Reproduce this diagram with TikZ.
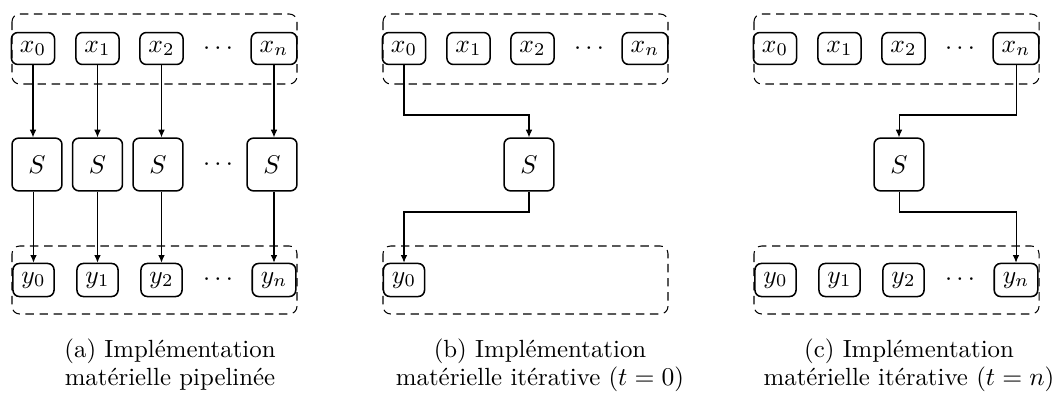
\documentclass[tikz,border=0pt]{standalone}
\usetikzlibrary{arrows.meta}
\begin{document}
\begin{tikzpicture}[x=0.390625pt,y=-0.390625pt,
  cell/.style={draw,semithick,rounded corners=2.5pt,minimum height=12.2pt,inner sep=3.33pt},
  sbox/.style={draw,semithick,rounded corners=2.5pt,minimum width=19.5pt,minimum height=20.6pt},
  group/.style={draw,dash pattern=on 3.3pt off 2.2pt,rounded corners=3pt},
  link/.style={-{Latex[length=3pt,width=2.6pt]}},
  captext/.style={align=center,font=\fontsize{9.7}{10.9}\selectfont,inner sep=0pt}]
\useasboundingbox (0,0) rectangle (1054,394);

% ---------- panel (a) ----------
\draw[group] (12,14) rectangle (297,84);
\draw[group] (12,246) rectangle (297,314);
\node[cell] (ax0) at (33,48.5) {$x_0$};
\node[cell] (ax1) at (97.5,48.5) {$x_1$};
\node[cell] (ax2) at (161.5,48.5) {$x_2$};
\node (axd) at (218,48.5) {$\cdots$};
\node[cell] (axn) at (274,48.5) {$x_n$};
\node[sbox] (aS0) at (37,164.5) {$S$};
\node[sbox] (aS1) at (97.5,164.5) {$S$};
\node[sbox] (aS2) at (158,164.5) {$S$};
\node (aSd) at (218,164.5) {$\cdots$};
\node[sbox] (aSn) at (272,164.5) {$S$};
\node[cell] (ay0) at (33.5,280) {$y_0$};
\node[cell] (ay1) at (97.5,280) {$y_1$};
\node[cell] (ay2) at (161.5,280) {$y_2$};
\node (ayd) at (218,280) {$\cdots$};
\node[cell] (ayn) at (274,280) {$y_n$};
\foreach \i in {0,1,2,n}{
  \draw[link] (ax\i.south) -- (ax\i.south |- aS\i.north);
  \draw[link] (ay\i.north |- aS\i.south) -- (ay\i.north);
}
\node[captext] (capa) at (170,365) {(a) Implémentation\\matérielle pipelinée};

% ---------- panel (b) ----------
\draw[group] (383,14) rectangle (668,84);
\draw[group] (383,246) rectangle (668,314);
\node[cell] (bx0) at (404,48.5) {$x_0$};
\node[cell] (bx1) at (468.5,48.5) {$x_1$};
\node[cell] (bx2) at (532.5,48.5) {$x_2$};
\node (bxd) at (589,48.5) {$\cdots$};
\node[cell] (bxn) at (645,48.5) {$x_n$};
\node[sbox] (bS) at (529,164.5) {$S$};
\node[cell] (by0) at (404,280) {$y_0$};
\coordinate (b1) at (404,115);
\coordinate (b2) at (529,212);
\draw[link] (bx0.south) -- (b1) -| (bS.north);
\draw[link] (bS.south) -- (b2) -| (by0.north);
\node[captext] (capb) at (540,365) {(b) Implémentation\\matérielle itérative ($t=0$)};

% ---------- panel (c) ----------
\draw[group] (754,14) rectangle (1039,84);
\draw[group] (754,246) rectangle (1039,314);
\node[cell] (cx0) at (775,48.5) {$x_0$};
\node[cell] (cx1) at (839.5,48.5) {$x_1$};
\node[cell] (cx2) at (903.5,48.5) {$x_2$};
\node (cxd) at (960,48.5) {$\cdots$};
\node[cell] (cxn) at (1016,48.5) {$x_n$};
\node[sbox] (cS) at (899,164.5) {$S$};
\node[cell] (cy0) at (775.5,280) {$y_0$};
\node[cell] (cy1) at (839.5,280) {$y_1$};
\node[cell] (cy2) at (903.5,280) {$y_2$};
\node (cyd) at (960,280) {$\cdots$};
\node[cell] (cyn) at (1016,280) {$y_n$};
\coordinate (c1) at (1016,115);
\coordinate (c2) at (899,212);
\draw[link] (cxn.south) -- (c1) -| (cS.north);
\draw[link] (cS.south) -- (c2) -| (cyn.north);
\node[captext] (capc) at (909,365) {(c) Implémentation\\matérielle itérative ($t=n$)};
\end{tikzpicture}
\end{document}
